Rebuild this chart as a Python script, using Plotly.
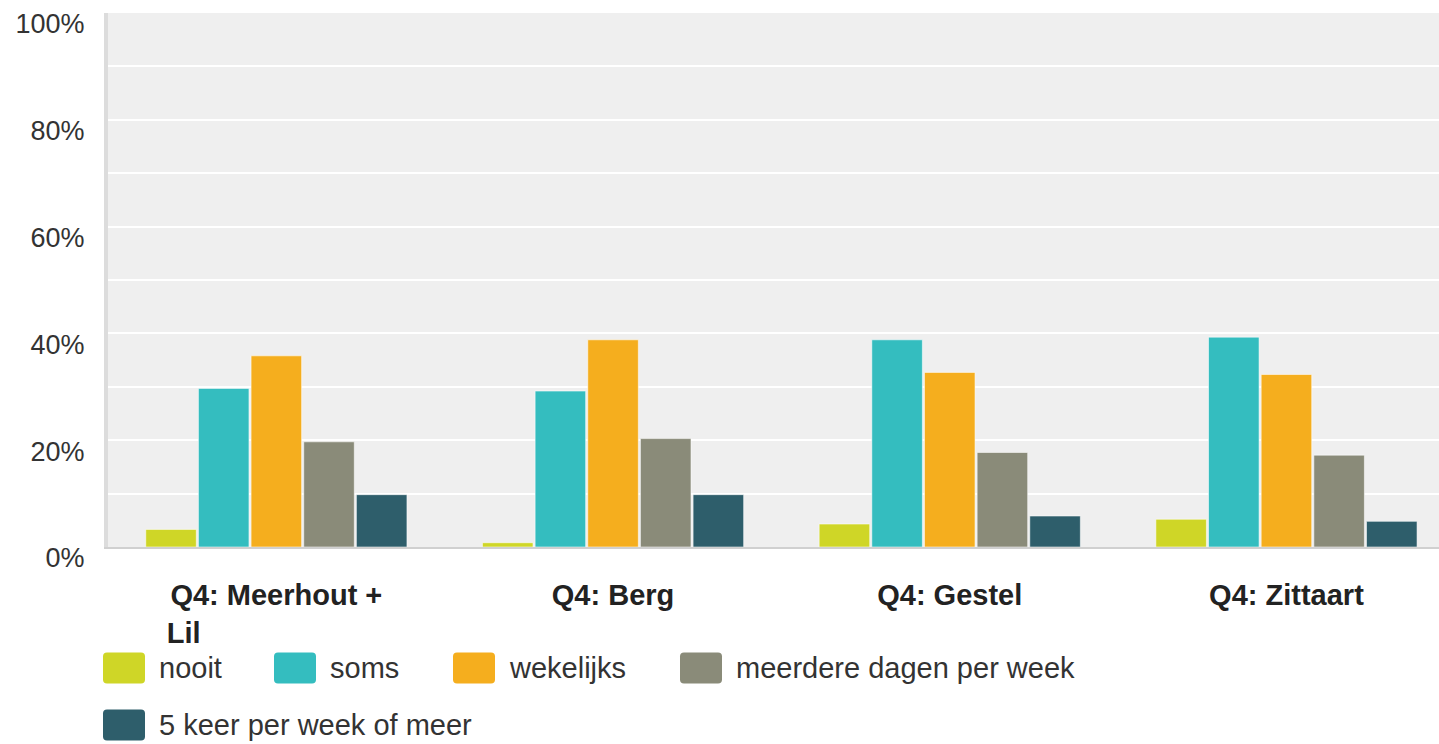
import plotly.graph_objects as go

# Data (percentages)
categories = ["Q4: Meerhout + Lil", "Q4: Berg", "Q4: Gestel", "Q4: Zittaart"]
tick_text = ["Q4: Meerhout +<br>Lil" + "\u00a0" * 23, "Q4: Berg", "Q4: Gestel", "Q4: Zittaart"]
series_names = ["nooit", "soms", "wekelijks", "meerdere dagen per week", "5 keer per week of meer"]
nooit = [3.3, 0.8, 4.3, 5.2]
soms = [29.7, 29.2, 38.8, 39.3]
wekelijks = [35.8, 38.8, 32.7, 32.3]
meerdere = [19.7, 20.3, 17.7, 17.2]
vijf_keer = [9.8, 9.8, 5.8, 4.8]
y_ticks = [0, 20, 40, 60, 80, 100]
y_tick_labels = ["0%", "20%", "40%", "60%", "80%", "100%"]

colors = ["#cfd627", "#34bdbf", "#f5ae1e", "#8a8b79", "#2e5e6b"]
values = [nooit, soms, wekelijks, meerdere, vijf_keer]

W, H = 1439, 744
L, R, T, B = 108, 0, 13, 197
plot_w = W - L - R
plot_h = H - T - B
FONT = "Liberation Sans, Arial, sans-serif"

fig = go.Figure()
for name, vals, col in zip(series_names, values, colors):
    fig.add_trace(go.Bar(
        x=categories, y=vals, name=name,
        marker=dict(color=col, line=dict(color="rgba(255,255,255,0.55)", width=1)),
        showlegend=False,
    ))


def px_x(px):
    return (px - L) / plot_w


def px_y(py):
    return (H - B - py) / plot_h


def rounded(x0, y0, x1, y1, r=4):
    # rounded rectangle path in paper coords, given pixel corners
    pts = [
        f"M{px_x(x0 + r)},{px_y(y0)}",
        f"L{px_x(x1 - r)},{px_y(y0)}",
        f"Q{px_x(x1)},{px_y(y0)} {px_x(x1)},{px_y(y0 + r)}",
        f"L{px_x(x1)},{px_y(y1 - r)}",
        f"Q{px_x(x1)},{px_y(y1)} {px_x(x1 - r)},{px_y(y1)}",
        f"L{px_x(x0 + r)},{px_y(y1)}",
        f"Q{px_x(x0)},{px_y(y1)} {px_x(x0)},{px_y(y1 - r)}",
        f"L{px_x(x0)},{px_y(y0 + r)}",
        f"Q{px_x(x0)},{px_y(y0)} {px_x(x0 + r)},{px_y(y0)}",
        "Z",
    ]
    return " ".join(pts)


# hand-laid legend (large swatches like the original)
legend_left = [103, 274, 453, 680, 103]
legend_row_y = [668, 668, 668, 668, 725]
shapes = []
annotations = []
for name, col, lx, cy in zip(series_names, colors, legend_left, legend_row_y):
    shapes.append(dict(type="path", xref="paper", yref="paper",
                       path=rounded(lx, cy - 15.5, lx + 42, cy + 15.5),
                       fillcolor=col, line=dict(width=0)))
    annotations.append(dict(xref="paper", yref="paper", x=px_x(lx + 54), y=px_y(cy),
                            text=name, showarrow=False, xanchor="left", yanchor="middle",
                            font=dict(family=FONT, size=29, color="#333333")))

fig.update_layout(
    width=W, height=H,
    margin=dict(l=L, r=R, t=T, b=B),
    paper_bgcolor="white",
    plot_bgcolor="#efefef",
    barmode="group",
    bargap=0.218,
    bargroupgap=0.04,
    font=dict(family=FONT, size=29, color="#333333"),
    shapes=shapes,
    annotations=annotations,
    xaxis=dict(
        range=[-0.5, -0.5 + plot_w / 336.7],
        tickvals=categories, ticktext=tick_text,
        tickfont=dict(family=FONT, size=29, color="#222222", weight="bold"),
        showline=True, linecolor="#d0d0d0", linewidth=2,
        showgrid=False, ticks="", ticklabelstandoff=21,
    ),
    yaxis=dict(
        range=[0, 100],
        tickvals=y_ticks, ticktext=y_tick_labels,
        tickfont=dict(family=FONT, size=27, color="#333333"),
        showgrid=True, gridcolor="white", gridwidth=2,
        minor=dict(dtick=10, showgrid=True, gridcolor="white", gridwidth=2),
        showline=True, linecolor="#dcdcdc", linewidth=4,
        zeroline=False, ticks="", ticklabelstandoff=14, ticklabelshift=11,
        ticklabeloverflow="allow",
    ),
)

# drop the browser's default body margin so the 1439x744 figure fits the window
fig.write_html("out.html", config={"displayModeBar": False},
               post_script="document.body.style.margin='0';")
